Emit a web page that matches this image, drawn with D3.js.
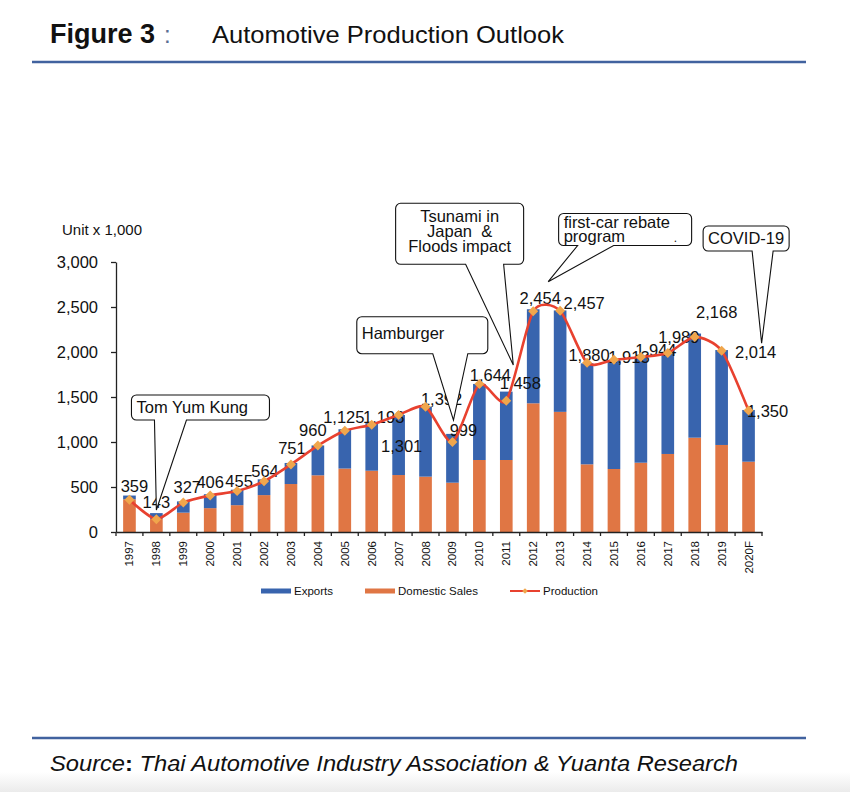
<!DOCTYPE html>
<html>
<head>
<meta charset="utf-8">
<script src="https://cdn.jsdelivr.net/npm/d3@7"></script>
<style>
  body { margin: 0; background: #fff; }
  svg { display: block; font-family: "Liberation Sans", Arial, sans-serif; }
</style>
</head>
<body>
<svg id="chart" width="850" height="792"></svg>
<script>
// data (units x 1,000)
const years = ['1997','1998','1999','2000','2001','2002','2003','2004','2005','2006','2007','2008',
               '2009','2010','2011','2012','2013','2014','2015','2016','2017','2018','2019','2020F'];
const domestic = [363,146,215,265,298,410,533,630,705,681,633,615,
                  548,800,800,1430,1335,752,700,770,867,1048,967,781];
const exportsV = [42,64,125,155,172,175,234,332,437,529,667,778,
                  542,845,760,1045,1127,1122,1211,1178,1137,1157,1055,575];
const production = [359,143,327,406,455,564,751,960,1125,1193,1301,1392,
                    999,1644,1458,2454,2457,1880,1913,1944,1989,2168,2014,1350];
const yTicks = [0,500,1000,1500,2000,2500,3000];

// where each value label sits relative to its marker (hand placed in the original)
const labelShift = [[5,-14],[0,-17],[4,-16],[0,-13],[2,-10],[1,-10],[1,-16],[-5,-16],
                    [-1,-14],[12,-8],[3,31],[16,-8],[11,-12],[11,-9],[14,-18],[7,-13],
                    [24,-8],[2,-8],[15,-3],[15,-7],[11,-16],[22,-25],[34,1],[19,0]];

// callouts: box anchored to a year/value, wedge tip anchored to a year/value
const callouts = [
  {lines:['Tom Yum Kung'], boxYear:'1997', dx:2, top:1522, w:138, h:25, align:'start', first:18, lh:0,
   base:[23,55], tipYear:'1998', tipDx:0, tip:244},
  {lines:['Hamburger'], boxYear:'2005', dx:12, top:2392, w:131, h:37, align:'start', first:22, lh:0,
   base:[76,111], tipYear:'2009', tipDx:1, tip:1244},
  {lines:['Tsunami in','Japan  &','Floods impact'], boxYear:'2007', dx:-3, top:3652, w:128, h:61, align:'middle', first:18.5, lh:15,
   base:[70,108], tipYear:'2011', tipDx:7, tip:1856},
  {lines:['first-car rebate','program'], boxYear:'2013', dx:-1.5, top:3539, w:133, h:32, align:'start', first:15, lh:13.5,
   base:[19,55], tipYear:'2012', tipDx:15, tip:2781},
  {lines:['COVID-19'], boxYear:'2019', dx:-18.5, top:3400, w:86, h:25, align:'middle', first:18, lh:0,
   base:[49,70], tipYear:'2019', tipDx:40, tip:2097}
];

const C = { exp: '#3864ae', dom: '#e07644', line: '#e8412f', mark: '#f0a64c', rule: '#41629f' };

const svg = d3.select('#chart');

// header / footer
svg.append('text').attr('x', 50).attr('y', 43).attr('font-size', 27).attr('font-weight', 'bold')
  .attr('fill', '#111').text('Figure 3');
svg.append('text').attr('x', 164).attr('y', 43).attr('font-size', 24).attr('fill', '#5a6f94').text(':');
svg.append('text').attr('x', 212).attr('y', 43).attr('font-size', 24).attr('fill', '#111')
  .attr('textLength', 352).attr('lengthAdjust', 'spacingAndGlyphs').text('Automotive Production Outlook');
svg.append('line').attr('x1', 32).attr('x2', 806).attr('y1', 62).attr('y2', 62)
  .attr('stroke', C.rule).attr('stroke-width', 2.5);

const grad = svg.append('defs').append('linearGradient').attr('id', 'fade').attr('x1', 0).attr('x2', 0).attr('y1', 0).attr('y2', 1);
grad.append('stop').attr('offset', 0).attr('stop-color', '#ffffff');
grad.append('stop').attr('offset', 1).attr('stop-color', '#ebebeb');
svg.append('rect').attr('x', 0).attr('y', 772).attr('width', 850).attr('height', 20).attr('fill', 'url(#fade)');

svg.append('line').attr('x1', 32).attr('x2', 806).attr('y1', 738).attr('y2', 738)
  .attr('stroke', C.rule).attr('stroke-width', 2.5);
const src = svg.append('text').attr('x', 50).attr('y', 771).attr('font-size', 22.5).attr('font-style', 'italic')
  .attr('fill', '#111').attr('textLength', 688).attr('lengthAdjust', 'spacingAndGlyphs');
src.append('tspan').text('Source');
src.append('tspan').attr('font-weight', 'bold').attr('font-style', 'normal').text(':');
src.append('tspan').text(' Thai Automotive Industry Association & Yuanta Research');

// scales
const x = d3.scaleBand().domain(years).range([116, 762]).padding(0);
const y = d3.scaleLinear().domain([0, 3000]).range([532, 262]);
const bw = x.bandwidth() * 0.47;
const cx = d => x(d) + x.bandwidth() / 2;

svg.append('text').attr('x', 62).attr('y', 235).attr('font-size', 15).attr('fill', '#111').text('Unit x 1,000');

// bars
const rows = years.map((yr, i) => ({ yr, dom: domestic[i], exp: exportsV[i], prod: production[i], i }));
const bars = svg.append('g');
bars.selectAll('rect.dom').data(rows).join('rect').attr('class', 'dom')
  .attr('x', d => cx(d.yr) - bw / 2).attr('width', bw)
  .attr('y', d => y(d.dom)).attr('height', d => y(0) - y(d.dom)).attr('fill', C.dom);
bars.selectAll('rect.exp').data(rows).join('rect').attr('class', 'exp')
  .attr('x', d => cx(d.yr) - bw / 2).attr('width', bw)
  .attr('y', d => y(d.dom + d.exp)).attr('height', d => y(d.dom) - y(d.dom + d.exp)).attr('fill', C.exp);

// axes
const yAxis = svg.append('g').attr('transform', 'translate(116,0)')
  .call(d3.axisLeft(y).tickValues(yTicks).tickFormat(d3.format(',')).tickSize(5).tickSizeOuter(0).tickPadding(13));
yAxis.selectAll('text').attr('font-size', 16.5).attr('fill', '#111').attr('font-family', 'Liberation Sans, Arial');
yAxis.selectAll('line, path').attr('stroke', '#222').attr('stroke-width', 1.3);

const xAxis = svg.append('g').attr('transform', 'translate(0,532)')
  .call(d3.axisBottom(x).tickSize(0).tickSizeOuter(0).tickPadding(0));
xAxis.select('path').attr('stroke', '#222').attr('stroke-width', 1.3);
xAxis.selectAll('text').attr('font-size', 11.5).attr('fill', '#111').attr('font-family', 'Liberation Sans, Arial')
  .attr('text-anchor', 'end').attr('transform', 'translate(0,9) rotate(-90)').attr('dx', 0).attr('dy', '0.35em');
xAxis.selectAll('line.bound').data(years.concat(['end'])).join('line').attr('class', 'bound')
  .attr('x1', d => d === 'end' ? x.range()[1] : x(d)).attr('x2', d => d === 'end' ? x.range()[1] : x(d))
  .attr('y1', 0).attr('y2', 4).attr('stroke', '#222').attr('stroke-width', 1.3);

// value labels
svg.append('g').selectAll('text').data(rows).join('text')
  .attr('x', d => cx(d.yr) + labelShift[d.i][0])
  .attr('y', d => y(d.prod) + labelShift[d.i][1] + 6)
  .attr('text-anchor', 'middle').attr('font-size', 16.5).attr('fill', '#111')
  .text(d => d3.format(',')(d.prod));

// production line
const lineGen = d3.line().x(d => cx(d.yr)).y(d => y(d.prod)).curve(d3.curveCardinal.tension(0.3));
svg.append('path').datum(rows).attr('d', lineGen).attr('fill', 'none')
  .attr('stroke', C.line).attr('stroke-width', 2.6);
svg.append('g').selectAll('path').data(rows).join('path')
  .attr('d', d3.symbol(d3.symbolSquare, 50))
  .attr('transform', d => `translate(${cx(d.yr)},${y(d.prod)}) rotate(45)`)
  .attr('fill', C.mark);

// callouts
const cg = svg.append('g');
callouts.forEach(c => {
  const bx = cx(c.boxYear) + c.dx, by = y(c.top), r = 5;
  const tx = cx(c.tipYear) + c.tipDx, ty = y(c.tip);
  const b1 = bx + c.base[0], b2 = bx + c.base[1], bb = by + c.h;
  const p = d3.path();
  p.moveTo(bx + r, by);
  p.lineTo(bx + c.w - r, by); p.arcTo(bx + c.w, by, bx + c.w, by + r, r);
  p.lineTo(bx + c.w, bb - r); p.arcTo(bx + c.w, bb, bx + c.w - r, bb, r);
  p.lineTo(b2, bb); p.lineTo(tx, ty); p.lineTo(b1, bb);
  p.lineTo(bx + r, bb); p.arcTo(bx, bb, bx, bb - r, r);
  p.lineTo(bx, by + r); p.arcTo(bx, by, bx + r, by, r);
  p.closePath();
  cg.append('path').attr('d', p.toString()).attr('fill', '#fff').attr('stroke', '#111').attr('stroke-width', 1.1);
  c.lines.forEach((ln, k) => {
    cg.append('text')
      .attr('x', c.align === 'middle' ? bx + c.w / 2 : bx + 5)
      .attr('y', by + c.first + k * c.lh)
      .attr('text-anchor', c.align).attr('font-size', 16.5).attr('fill', '#111')
      .attr('xml:space', 'preserve').style('white-space', 'pre').text(ln);
  });
});
cg.append('text').attr('x', cx('2018') - 21).attr('y', 242).attr('font-size', 12).attr('fill', '#111').text('.');

// legend
const lg = svg.append('g').attr('font-size', 11.5).attr('fill', '#111');
lg.append('rect').attr('x', 261).attr('y', 588.5).attr('width', 30).attr('height', 5).attr('fill', C.exp);
lg.append('text').attr('x', 294).attr('y', 595).text('Exports');
lg.append('rect').attr('x', 365).attr('y', 588.5).attr('width', 30).attr('height', 5).attr('fill', C.dom);
lg.append('text').attr('x', 398).attr('y', 595).text('Domestic Sales');
lg.append('line').attr('x1', 510).attr('x2', 540).attr('y1', 591).attr('y2', 591).attr('stroke', C.line).attr('stroke-width', 2);
lg.append('path').attr('d', d3.symbol(d3.symbolSquare, 16)).attr('transform', 'translate(525,591) rotate(45)').attr('fill', C.mark);
lg.append('text').attr('x', 543).attr('y', 595).text('Production');
</script>
</body>
</html>
